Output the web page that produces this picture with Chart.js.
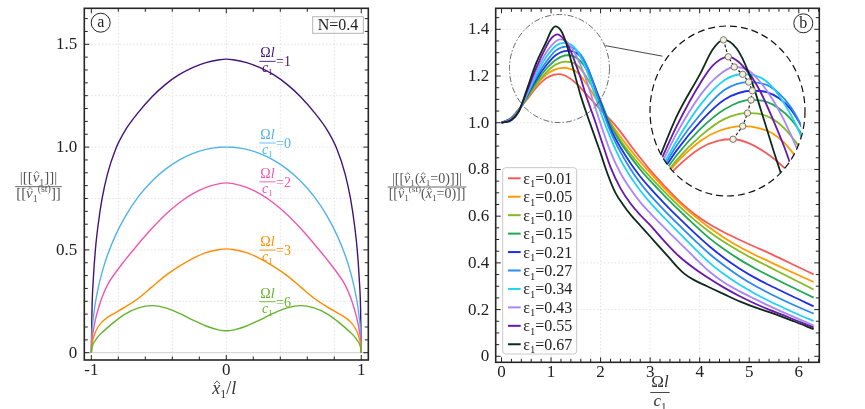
<!DOCTYPE html>
<html>
<head>
<meta charset="utf-8">
<script src="https://cdn.jsdelivr.net/npm/chart.js@4.4.1/dist/chart.umd.min.js"></script>
<style>
  html, body { margin: 0; padding: 0; background: #fff; }
  body { width: 865px; height: 409px; position: relative; overflow: hidden; }
  #wa { position: absolute; left: 0; top: 0; width: 370px; height: 409px; }
  #wb { position: absolute; left: 370px; top: 0; width: 495px; height: 409px; }
  #wi { position: absolute; left: 649px; top: 25px; width: 157px; height: 172px; }
</style>
</head>
<body>
<div id="wa"><canvas id="panelA"></canvas></div>
<div id="wb"><canvas id="panelB"></canvas></div>
<div id="wi"><canvas id="inset"></canvas></div>
<script>
const SERIF = '"Liberation Serif", "DejaVu Serif", serif';

// ---- panel (a): jump profile along the crack, x / l ----
const xA = [-1, -0.995, -0.985, -0.97, -0.95, -0.92, -0.88, -0.82, -0.75, -0.65, -0.55, -0.45, -0.35, -0.25, -0.15, -0.05, 0,
            0.05, 0.15, 0.25, 0.35, 0.45, 0.55, 0.65, 0.75, 0.82, 0.88, 0.92, 0.95, 0.97, 0.985, 0.995, 1];
const omegaA = [1, 0, 2, 3, 6];
const colorsA = ['#45117a', '#4fb3ec', '#f056b1', '#ff8c00', '#64b32c'];
const jumpW1 = [0, 0.21, 0.36, 0.50, 0.62, 0.75, 0.87, 0.99, 1.08, 1.17, 1.245, 1.305, 1.352, 1.387, 1.411, 1.425, 1.428,
                1.425, 1.411, 1.387, 1.352, 1.305, 1.245, 1.17, 1.08, 0.99, 0.87, 0.75, 0.62, 0.50, 0.36, 0.21, 0];
const jumpW0 = [0, 0.10, 0.17, 0.243, 0.312, 0.392, 0.475, 0.572, 0.661, 0.76, 0.835, 0.893, 0.937, 0.968, 0.989, 0.999, 1.0,
                0.999, 0.989, 0.968, 0.937, 0.893, 0.835, 0.76, 0.661, 0.572, 0.475, 0.392, 0.312, 0.243, 0.17, 0.10, 0];
const jumpW2 = [0, 0.06, 0.11, 0.16, 0.21, 0.27, 0.33, 0.39, 0.45, 0.53, 0.605, 0.672, 0.728, 0.772, 0.804, 0.822, 0.826,
                0.822, 0.804, 0.772, 0.728, 0.672, 0.605, 0.53, 0.45, 0.39, 0.33, 0.27, 0.21, 0.16, 0.11, 0.06, 0];
const jumpW3 = [0, 0.04, 0.07, 0.10, 0.125, 0.15, 0.172, 0.195, 0.222, 0.265, 0.32, 0.375, 0.42, 0.458, 0.487, 0.502, 0.505,
                0.502, 0.487, 0.458, 0.42, 0.375, 0.32, 0.265, 0.222, 0.195, 0.172, 0.15, 0.125, 0.10, 0.07, 0.04, 0];
const jumpW6 = [0, 0.025, 0.045, 0.06, 0.078, 0.098, 0.122, 0.155, 0.188, 0.218, 0.229, 0.218, 0.192, 0.16, 0.13, 0.11, 0.107,
                0.11, 0.13, 0.16, 0.192, 0.218, 0.229, 0.218, 0.188, 0.155, 0.122, 0.098, 0.078, 0.06, 0.045, 0.025, 0];
const seriesA = [jumpW1, jumpW0, jumpW2, jumpW3, jumpW6];
const labelYA = [1.417, 1.020, 0.831, 0.499, 0.248];
const tickXA = [-1, 0, 1];
const tickYA = [0, 0.5, 1.0, 1.5];

// ---- panel (b): centre jump vs. frequency, one curve per eps1 ----
const epsLabels = ['0.01', '0.05', '0.10', '0.15', '0.21', '0.27', '0.34', '0.43', '0.55', '0.67'];
const colorsB = ['#f55b5b', '#ff9a00', '#84bb22', '#1fa855', '#1f2fe8', '#2b8af2', '#1fd3f2', '#a987fa', '#6a17ad', '#0f2a1c'];
const e001 = [[0,1.0],[0.2,1.022],[0.35,1.058],[0.5,1.095],[0.7,1.15],[0.9,1.19],[1.05,1.205],[1.17,1.208],[1.3,1.2],[1.5,1.17],[1.7,1.125],[1.85,1.09],[2.0,1.055],[2.2,1.012],[2.4,0.962],[2.6,0.905],[2.8,0.85],[3.0,0.797],[3.3,0.727],[3.6,0.662],[3.9,0.608],[4.2,0.565],[4.5,0.53],[4.8,0.499],[5.1,0.47],[5.4,0.442],[5.7,0.412],[6.0,0.381],[6.3,0.351]];
const e005 = [[0,1.0],[0.2,1.021],[0.35,1.057],[0.5,1.10],[0.7,1.16],[0.9,1.205],[1.05,1.225],[1.25,1.235],[1.4,1.23],[1.5,1.22],[1.6,1.2],[1.7,1.17],[1.8,1.14],[1.9,1.105],[2.0,1.07],[2.2,1.0],[2.4,0.94],[2.6,0.885],[2.8,0.833],[3.0,0.785],[3.3,0.717],[3.6,0.655],[3.9,0.6],[4.2,0.55],[4.5,0.507],[4.8,0.469],[5.1,0.436],[5.4,0.406],[5.7,0.376],[6.0,0.347],[6.3,0.318]];
const e010 = [[0,1.0],[0.2,1.02],[0.35,1.056],[0.5,1.10],[0.7,1.165],[0.9,1.215],[1.1,1.25],[1.29,1.262],[1.4,1.26],[1.5,1.25],[1.6,1.23],[1.7,1.2],[1.8,1.165],[1.9,1.125],[2.0,1.08],[2.2,0.995],[2.4,0.925],[2.6,0.868],[2.8,0.815],[3.0,0.768],[3.3,0.702],[3.6,0.64],[3.9,0.583],[4.2,0.532],[4.5,0.488],[4.8,0.45],[5.1,0.415],[5.4,0.383],[5.7,0.35],[6.0,0.318],[6.3,0.286]];
const e015 = [[0,1.0],[0.2,1.019],[0.35,1.055],[0.5,1.105],[0.7,1.175],[0.9,1.23],[1.1,1.27],[1.32,1.289],[1.45,1.285],[1.55,1.272],[1.65,1.25],[1.75,1.215],[1.85,1.17],[2.0,1.095],[2.2,0.99],[2.4,0.915],[2.6,0.855],[2.8,0.8],[3.0,0.752],[3.3,0.685],[3.6,0.622],[3.9,0.562],[4.2,0.505],[4.5,0.457],[4.8,0.415],[5.1,0.378],[5.4,0.345],[5.7,0.313],[6.0,0.282],[6.3,0.251]];
const e021 = [[0,1.0],[0.2,1.018],[0.35,1.054],[0.5,1.11],[0.7,1.185],[0.9,1.245],[1.1,1.29],[1.33,1.308],[1.45,1.305],[1.55,1.293],[1.65,1.27],[1.75,1.23],[1.85,1.175],[2.0,1.085],[2.2,0.975],[2.4,0.895],[2.6,0.828],[2.8,0.77],[3.0,0.72],[3.3,0.652],[3.6,0.588],[3.9,0.527],[4.2,0.47],[4.5,0.42],[4.8,0.376],[5.1,0.338],[5.4,0.305],[5.7,0.274],[6.0,0.244],[6.3,0.214]];
const e027 = [[0,1.0],[0.2,1.017],[0.35,1.053],[0.5,1.112],[0.7,1.195],[0.9,1.26],[1.1,1.31],[1.3,1.326],[1.45,1.32],[1.55,1.303],[1.65,1.275],[1.75,1.23],[1.85,1.17],[2.0,1.075],[2.2,0.962],[2.4,0.875],[2.6,0.803],[2.8,0.742],[3.0,0.69],[3.3,0.622],[3.6,0.558],[3.9,0.496],[4.2,0.438],[4.5,0.388],[4.8,0.343],[5.1,0.304],[5.4,0.27],[5.7,0.239],[6.0,0.21],[6.3,0.183]];
const e034 = [[0,1.0],[0.2,1.016],[0.35,1.052],[0.5,1.115],[0.7,1.205],[0.9,1.28],[1.1,1.33],[1.25,1.342],[1.4,1.335],[1.5,1.315],[1.6,1.28],[1.7,1.235],[1.8,1.175],[1.9,1.11],[2.0,1.045],[2.2,0.935],[2.4,0.842],[2.6,0.77],[2.8,0.71],[3.0,0.658],[3.3,0.59],[3.6,0.525],[3.9,0.461],[4.2,0.4],[4.5,0.35],[4.8,0.307],[5.1,0.27],[5.4,0.237],[5.7,0.207],[6.0,0.178],[6.3,0.151]];
const e043 = [[0,1.0],[0.2,1.015],[0.35,1.052],[0.5,1.12],[0.7,1.22],[0.9,1.30],[1.05,1.34],[1.18,1.357],[1.3,1.35],[1.4,1.325],[1.5,1.29],[1.6,1.245],[1.7,1.19],[1.8,1.125],[1.9,1.06],[2.0,0.995],[2.2,0.875],[2.4,0.785],[2.6,0.717],[2.8,0.66],[3.0,0.613],[3.3,0.548],[3.6,0.485],[3.9,0.422],[4.2,0.362],[4.5,0.315],[4.8,0.279],[5.1,0.247],[5.4,0.216],[5.7,0.187],[6.0,0.159],[6.3,0.133]];
const e055 = [[0,1.0],[0.2,1.013],[0.35,1.05],[0.5,1.127],[0.7,1.235],[0.9,1.325],[1.0,1.36],[1.13,1.378],[1.3,1.345],[1.4,1.305],[1.5,1.25],[1.6,1.19],[1.7,1.12],[1.8,1.06],[1.9,1.0],[2.0,0.935],[2.2,0.81],[2.4,0.72],[2.6,0.655],[2.8,0.605],[3.0,0.562],[3.3,0.49],[3.6,0.425],[3.9,0.375],[4.2,0.332],[4.5,0.293],[4.8,0.258],[5.1,0.227],[5.4,0.2],[5.7,0.175],[6.0,0.149],[6.3,0.124]];
const e067 = [[0,1.0],[0.2,1.011],[0.35,1.048],[0.5,1.135],[0.7,1.255],[0.9,1.345],[1.0,1.393],[1.09,1.413],[1.2,1.395],[1.3,1.345],[1.4,1.27],[1.5,1.19],[1.6,1.115],[1.7,1.05],[1.8,0.99],[1.9,0.93],[2.0,0.87],[2.1,0.805],[2.2,0.748],[2.3,0.70],[2.45,0.65],[2.63,0.60],[2.8,0.56],[3.0,0.513],[3.2,0.465],[3.4,0.418],[3.55,0.382],[3.7,0.352],[3.9,0.325],[4.15,0.30],[4.5,0.265],[4.82,0.234],[5.15,0.207],[5.49,0.183],[5.9,0.15],[6.3,0.116]];
const seriesB = [e001, e005, e010, e015, e021, e027, e034, e043, e055, e067];
// maxima marked in the zoomed view
const peakX = [1.17, 1.25, 1.29, 1.32, 1.33, 1.30, 1.25, 1.18, 1.13, 1.09];
const peakY = [1.208, 1.235, 1.262, 1.289, 1.308, 1.326, 1.342, 1.357, 1.378, 1.413];
const tickXB = [0, 1, 2, 3, 4, 5, 6];
const tickYB = [0, 0.2, 0.4, 0.6, 0.8, 1.0, 1.2, 1.4];

// ---- little text helpers (fractions, hats, subscripts) ----
function segFont(s, size) {
  const sz = (s.sub || s.sup) ? size * 0.66 : size;
  return (s.it ? 'italic ' : '') + sz.toFixed(1) + 'px ' + SERIF;
}
function richWidth(ctx, segs, size) {
  let w = 0;
  segs.forEach(s => { ctx.font = segFont(s, size); w += ctx.measureText(s.t).width; });
  return w;
}
function drawRich(ctx, segs, x, base, size, color) {
  ctx.fillStyle = color; ctx.strokeStyle = color;
  ctx.textAlign = 'left'; ctx.textBaseline = 'alphabetic';
  let cx = x;
  segs.forEach(s => {
    ctx.font = segFont(s, size);
    const w = ctx.measureText(s.t).width;
    let y = base;
    if (s.sub) y += size * 0.22;
    if (s.sup) y -= size * 0.42;
    ctx.fillText(s.t, cx, y);
    if (s.hat) {
      const hy = y - size * 0.56;
      ctx.lineWidth = 0.8;
      ctx.beginPath();
      ctx.moveTo(cx + w * 0.25, hy);
      ctx.lineTo(cx + w * 0.6, hy - size * 0.17);
      ctx.lineTo(cx + w * 0.95, hy);
      ctx.stroke();
    }
    cx += w;
  });
  return cx;
}
function drawFrac(ctx, num, den, x, ly, size, color, align) {
  const wn = richWidth(ctx, num, size), wd = richWidth(ctx, den, size), w = Math.max(wn, wd);
  const left = align === 'left' ? x : x - w / 2;
  drawRich(ctx, num, left + (w - wn) / 2, ly - size * 0.3, size, color);
  drawRich(ctx, den, left + (w - wd) / 2, ly + size * 0.78, size, color);
  ctx.strokeStyle = color; ctx.lineWidth = 0.9;
  ctx.beginPath(); ctx.moveTo(left - 1, ly); ctx.lineTo(left + w + 1, ly); ctx.stroke();
  return left + w + 1;
}
const S = (t, o) => Object.assign({ t }, o || {});
const OMEGA_NUM = [S('Ω'), S('l', { it: true })];
const C1_DEN = [S('c', { it: true }), S('1', { sub: true })];

// frame, inward ticks, dotted grid and tick labels
function axesPlugin(cfg) {
  const near = (v, m) => Math.abs(v / m - Math.round(v / m)) < 1e-6;
  return {
    id: 'axes_' + cfg.name,
    beforeDatasetsDraw(chart) {
      const { ctx, chartArea: a, scales: { x, y } } = chart;
      ctx.save();
      ctx.strokeStyle = '#dadada'; ctx.lineWidth = 0.8; ctx.setLineDash([1.5, 2]);
      cfg.gridX.forEach(v => { const p = x.getPixelForValue(v); ctx.beginPath(); ctx.moveTo(p, a.top); ctx.lineTo(p, a.bottom); ctx.stroke(); });
      cfg.gridY.forEach(v => { const p = y.getPixelForValue(v); ctx.beginPath(); ctx.moveTo(a.left, p); ctx.lineTo(a.right, p); ctx.stroke(); });
      ctx.setLineDash([]);
      if (cfg.zeroLine) {
        const p = y.getPixelForValue(0);
        ctx.strokeStyle = '#cfcfcf'; ctx.lineWidth = 1;
        ctx.beginPath(); ctx.moveTo(a.left, p); ctx.lineTo(a.right, p); ctx.stroke();
      }
      ctx.restore();
    },
    afterDraw(chart) {
      const { ctx, chartArea: a, scales: { x, y } } = chart;
      ctx.save();
      ctx.strokeStyle = '#222'; ctx.lineWidth = 1;
      for (let i = 0; ; i++) {
        const v = cfg.xt[0] + i * cfg.xt[2];
        if (v > cfg.xt[1] + 1e-9) break;
        const p = x.getPixelForValue(v), L = near(v, cfg.xt[3]) ? 5 : 3.5;
        ctx.beginPath();
        ctx.moveTo(p, a.bottom); ctx.lineTo(p, a.bottom - L);
        ctx.moveTo(p, a.top); ctx.lineTo(p, a.top + L);
        ctx.stroke();
      }
      for (let i = 0; ; i++) {
        const v = cfg.yt[0] + i * cfg.yt[2];
        if (v > cfg.yt[1] + 1e-9) break;
        const p = y.getPixelForValue(v), L = near(v, cfg.yt[3]) ? 5 : 3.5;
        ctx.beginPath();
        ctx.moveTo(a.left, p); ctx.lineTo(a.left + L, p);
        ctx.moveTo(a.right, p); ctx.lineTo(a.right - L, p);
        ctx.stroke();
      }
      ctx.lineWidth = 1.6; ctx.strokeStyle = '#262626';
      ctx.strokeRect(a.left, a.top, a.width, a.height);
      // tick labels
      ctx.fillStyle = '#222'; ctx.font = '17px ' + SERIF;
      ctx.textAlign = 'center'; ctx.textBaseline = 'middle';
      cfg.labelsX.forEach(v => ctx.fillText(cfg.fmtX(v), x.getPixelForValue(v), a.bottom + cfg.xLabOff));
      ctx.textAlign = 'right';
      cfg.labelsY.forEach(v => ctx.fillText(cfg.fmtY(v), a.left - cfg.yLabOff, y.getPixelForValue(v) + 0.5));
      ctx.restore();
      if (cfg.extra) cfg.extra(chart);
    }
  };
}

function circled(ctx, ch, cx, cy) {
  ctx.save();
  ctx.strokeStyle = '#222'; ctx.lineWidth = 1;
  ctx.beginPath(); ctx.arc(cx, cy, 9.5, 0, Math.PI * 2); ctx.stroke();
  ctx.fillStyle = '#222'; ctx.font = '16px ' + SERIF;
  ctx.textAlign = 'center'; ctx.textBaseline = 'middle';
  ctx.fillText(ch, cx, cy + 0.5);
  ctx.restore();
}

const hiddenTicks = { display: false };
const fmtDec = v => Math.abs(v) < 1e-9 ? '0' : v.toFixed(1);
const fmtInt = v => String(Math.round(v));

// ---------------- panel (a) ----------------
new Chart(document.getElementById('panelA'), {
  type: 'scatter',
  data: {
    datasets: seriesA.map((vals, i) => ({
      label: 'Ωl/c1=' + omegaA[i],
      data: xA.map((x, k) => ({ x, y: vals[k] })),
      showLine: true, borderColor: colorsA[i], borderWidth: 1.4,
      pointRadius: 0, cubicInterpolationMode: 'monotone', order: 5 - i
    }))
  },
  options: {
    animation: false, responsive: true, maintainAspectRatio: false, events: [],
    layout: { padding: { left: 0, right: 1.7, top: 8.3, bottom: 0 } },
    plugins: { legend: { display: false }, tooltip: { enabled: false } },
    scales: {
      x: { type: 'linear', min: -1.052, max: 1.052, grid: { display: false }, border: { display: false },
           ticks: hiddenTicks, afterFit(s) { s.height = 49; } },
      y: { type: 'linear', min: -0.0355, max: 1.675, grid: { display: false }, border: { display: false },
           ticks: hiddenTicks, afterFit(s) { s.width = 84.3; } }
    }
  },
  plugins: [axesPlugin({
    name: 'a',
    gridX: [-0.8, -0.4, 0, 0.4, 0.8], gridY: [0.25, 0.5, 0.75, 1.0, 1.25, 1.5], zeroLine: true,
    xt: [-1, 1, 0.2, 1], yt: [0, 1.625, 0.0625, 0.5],
    labelsX: tickXA, labelsY: tickYA, fmtX: fmtInt, fmtY: fmtDec, xLabOff: 10.5, yLabOff: 7,
    extra(chart) {
      const { ctx, scales: { x, y } } = chart;
      ctx.save();
      // curve labels  Ωl/c1 = value
      seriesA.forEach((_, i) => {
        const lx = x.getPixelForValue(0.252), ly = y.getPixelForValue(labelYA[i]);
        const end = drawFrac(ctx, OMEGA_NUM, C1_DEN, lx, ly, 14, colorsA[i], 'left');
        drawRich(ctx, [S('=' + omegaA[i])], end + 0.5, ly + 5, 14, colorsA[i]);
      });
      // axis titles
      drawRich(ctx, [S('x', { it: true, hat: true }), S('1', { sub: true }), S('/'), S('l', { it: true })],
               x.getPixelForValue(0) - 14, 394, 18, '#333');
      drawFrac(ctx,
        [S('|[['), S('v', { it: true, hat: true }), S('1', { sub: true }), S(']]|')],
        [S('[['), S('v', { it: true, hat: true }), S('1', { sub: true }), S('(st)', { sup: true }), S(']]')],
        38.5, 186.7, 15, '#555', 'center');
      circled(ctx, 'a', 100.7, 22.7);
      // N = 0.4 box
      ctx.strokeStyle = '#b5b5b5'; ctx.lineWidth = 1;
      ctx.strokeRect(312.7, 16.7, 50.6, 16.6);
      ctx.fillStyle = '#222'; ctx.font = '16px ' + SERIF; ctx.textAlign = 'center'; ctx.textBaseline = 'middle';
      ctx.fillText('N=0.4', 338, 25.5);
      ctx.restore();
    }
  })]
});

// ---------------- panel (b) ----------------
const zoomCircle = { x: 1.17, y: 1.232, rx: 50, ry: 54 };
const connector = [[2.1, 1.33], [3.25, 1.285]];

new Chart(document.getElementById('panelB'), {
  type: 'scatter',
  data: {
    datasets: seriesB.map((pts, i) => ({
      label: 'ε1=' + epsLabels[i],
      data: pts.map(p => ({ x: p[0], y: p[1] })),
      showLine: true, borderColor: colorsB[i], borderWidth: 1.8,
      pointRadius: 0, cubicInterpolationMode: 'monotone', order: 10 - i
    }))
  },
  options: {
    animation: false, responsive: true, maintainAspectRatio: false, events: [],
    layout: { padding: { left: 0, right: 45.7, top: 8.3, bottom: 0 } },
    plugins: { legend: { display: false }, tooltip: { enabled: false } },
    scales: {
      x: { type: 'linear', min: -0.117, max: 6.414, grid: { display: false }, border: { display: false },
           ticks: hiddenTicks, afterFit(s) { s.height = 46.7; } },
      y: { type: 'linear', min: -0.0257, max: 1.49, grid: { display: false }, border: { display: false },
           ticks: hiddenTicks, afterFit(s) { s.width = 125.7; } }
    }
  },
  plugins: [axesPlugin({
    name: 'b',
    gridX: [1, 2, 3, 4, 5, 6], gridY: [0.2, 0.4, 0.6, 0.8, 1.0, 1.2, 1.4], zeroLine: false,
    xt: [0, 6.4, 0.2, 1], yt: [0, 1.45, 0.05, 0.2],
    labelsX: tickXB, labelsY: tickYB, fmtX: fmtInt, fmtY: fmtDec, xLabOff: 10, yLabOff: 6.4,
    extra(chart) {
      const { ctx, scales: { x, y } } = chart;
      ctx.save();
      // zoom marker and connector towards the magnified view
      ctx.strokeStyle = '#444'; ctx.lineWidth = 0.8; ctx.setLineDash([6, 2, 1.5, 2]);
      ctx.beginPath();
      ctx.ellipse(x.getPixelForValue(zoomCircle.x), y.getPixelForValue(zoomCircle.y), zoomCircle.rx, zoomCircle.ry, 0, 0, Math.PI * 2);
      ctx.stroke();
      ctx.setLineDash([]); ctx.strokeStyle = '#333'; ctx.lineWidth = 0.9;
      ctx.beginPath();
      ctx.moveTo(x.getPixelForValue(connector[0][0]), y.getPixelForValue(connector[0][1]));
      ctx.lineTo(x.getPixelForValue(connector[1][0]), y.getPixelForValue(connector[1][1]));
      ctx.stroke();
      // legend
      const lx = 132.7, ly = 167.7, lw = 74, lh = 186.3, r = 3;
      ctx.fillStyle = '#fff'; ctx.strokeStyle = '#c8c8c8'; ctx.lineWidth = 1;
      ctx.beginPath(); ctx.roundRect(lx, ly, lw, lh, r); ctx.fill(); ctx.stroke();
      chart.data.datasets.forEach((ds, i) => {
        const ry = 178.3 + i * 18.44;
        ctx.strokeStyle = ds.borderColor; ctx.lineWidth = 2;
        ctx.beginPath(); ctx.moveTo(138, ry); ctx.lineTo(150.7, ry); ctx.stroke();
        drawRich(ctx, [S('ε'), S('1', { sub: true }), S('=' + epsLabels[i])], 153.3, ry + 5.5, 16, '#222');
      });
      // axis titles
      drawFrac(ctx, OMEGA_NUM, C1_DEN, 290, 392.5, 17, '#333', 'center');
      drawFrac(ctx,
        [S('|[['), S('v', { it: true, hat: true }), S('1', { sub: true }), S('('), S('x', { it: true, hat: true }), S('1', { sub: true }), S('=0)]]|')],
        [S('[['), S('v', { it: true, hat: true }), S('1', { sub: true }), S('(st)', { sup: true }), S('('), S('x', { it: true, hat: true }), S('1', { sub: true }), S('=0)]]')],
        57, 187, 14, '#555', 'center');
      circled(ctx, 'b', 433.3, 23.3);
      ctx.restore();
    }
  })]
});

// ---------------- magnified view ----------------
const insetRange = { xmin: 0.51, xmax: 1.737, ymin: 1.099, ymax: 1.4335 };
const ellipsePlugin = {
  id: 'ellipse',
  beforeDraw(chart) {
    const { ctx, width, height } = chart;
    ctx.save();
    ctx.fillStyle = '#fff';
    ctx.beginPath(); ctx.ellipse(width / 2, height / 2, width / 2 - 1, height / 2 - 1, 0, 0, Math.PI * 2); ctx.fill();
    ctx.restore();
  },
  beforeDatasetsDraw(chart) {
    const { ctx, width, height } = chart;
    ctx.save();
    ctx.beginPath(); ctx.ellipse(width / 2, height / 2, width / 2 - 1, height / 2 - 1, 0, 0, Math.PI * 2); ctx.clip();
  },
  afterDatasetsDraw(chart) {
    const { ctx, width, height } = chart;
    ctx.restore();
    ctx.save();
    ctx.strokeStyle = '#111'; ctx.lineWidth = 1.2; ctx.setLineDash([7, 4]);
    ctx.beginPath(); ctx.ellipse(width / 2, height / 2, width / 2 - 1, height / 2 - 1, 0, 0, Math.PI * 2); ctx.stroke();
    ctx.restore();
  }
};

new Chart(document.getElementById('inset'), {
  type: 'scatter',
  data: {
    datasets: [{
      label: 'peaks',
      data: peakX.map((x, i) => ({ x, y: peakY[i] })),
      showLine: true, borderColor: '#111', borderWidth: 1.1, borderDash: [3, 2],
      pointRadius: 3.2, pointBackgroundColor: '#f4efd6', pointBorderColor: '#6a6a6a', pointBorderWidth: 0.9,
      order: 0
    }].concat(seriesB.map((pts, i) => ({
      label: 'ε1=' + epsLabels[i],
      data: pts.map(p => ({ x: p[0], y: p[1] })),
      showLine: true, borderColor: colorsB[i], borderWidth: 1.8,
      pointRadius: 0, cubicInterpolationMode: 'monotone', order: 11 - i
    })))
  },
  options: {
    animation: false, responsive: true, maintainAspectRatio: false, events: [],
    layout: { padding: 0 },
    plugins: { legend: { display: false }, tooltip: { enabled: false } },
    scales: {
      x: { type: 'linear', display: false, min: insetRange.xmin, max: insetRange.xmax },
      y: { type: 'linear', display: false, min: insetRange.ymin, max: insetRange.ymax }
    }
  },
  plugins: [ellipsePlugin]
});
</script>
</body>
</html>
